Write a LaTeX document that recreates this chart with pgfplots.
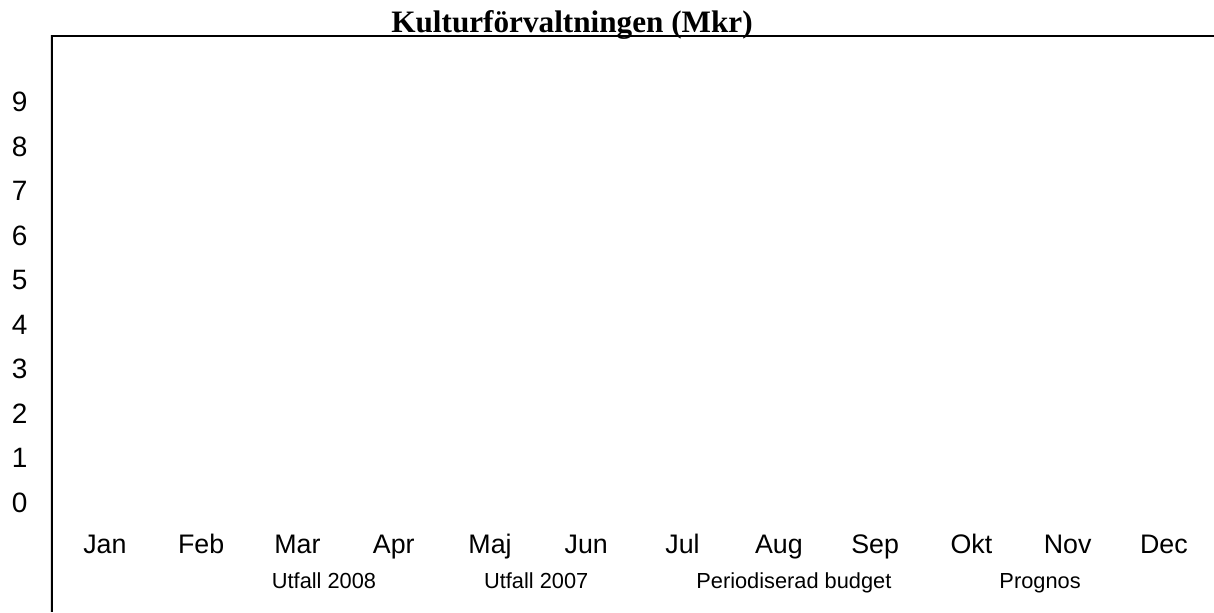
\documentclass[border=0pt]{standalone}
\usepackage{fontspec}
\setmainfont{Liberation Sans}
\newfontfamily\titlefont{Liberation Serif}
\usepackage{pgfplots}
\pgfplotsset{compat=1.18}
\begin{document}
\begin{tikzpicture}
\path[use as bounding box] (-25.5pt,0pt) rectangle (581.5pt,306pt);
\begin{axis}[
  at={(0pt,0pt)}, anchor=south west,
  scale only axis, width=581.5pt, height=288.5pt,
  xmin=-0.56, xmax=11.52, ymin=-2.45, ymax=10.5,
  axis line style={draw=none},
  major tick length=0pt,
  xtick={0,1,2,3,4,5,6,7,8,9,10,11},
  xticklabels={Jan,Feb,Mar,Apr,Maj,Jun,Jul,Aug,Sep,Okt,Nov,Dec},
  ytick={0,1,2,3,4,5,6,7,8,9},
  /pgf/number format/assume math mode=true,
  x tick label style={font=\fontsize{13.4}{15}\selectfont, anchor=base, yshift=29.35pt},
  y tick label style={font=\fontsize{14}{16}\selectfont, anchor=center, xshift=-15.7pt},
  title={\titlefont\bfseries Kulturförvaltningen (Mkr)},
  title style={at={(rel axis cs:0.448,1)}, anchor=base, yshift=-4.5pt, font=\fontsize{15.6}{17}\selectfont, inner sep=0pt},
  legend columns=4,
  legend image code/.code={},
  legend style={draw=none, fill=none, at={(rel axis cs:0.181,0)}, anchor=west, yshift=14.5pt,
    font=\fontsize{10.9}{12}\selectfont, column sep=0pt,
    nodes={text height=0.75em, text depth=0.22em},
    /tikz/every even column/.append style={column sep=50pt}},
]
\addlegendimage{empty legend}
\addlegendentry{Utfall 2008}
\addlegendimage{empty legend}
\addlegendentry{Utfall 2007}
\addlegendimage{empty legend}
\addlegendentry{Periodiserad budget}
\addlegendimage{empty legend}
\addlegendentry{Prognos}
\draw[line width=2pt, line join=miter] (rel axis cs:0,0) -- (rel axis cs:0,1) -- (rel axis cs:1,1);
\end{axis}
\end{tikzpicture}
\end{document}
